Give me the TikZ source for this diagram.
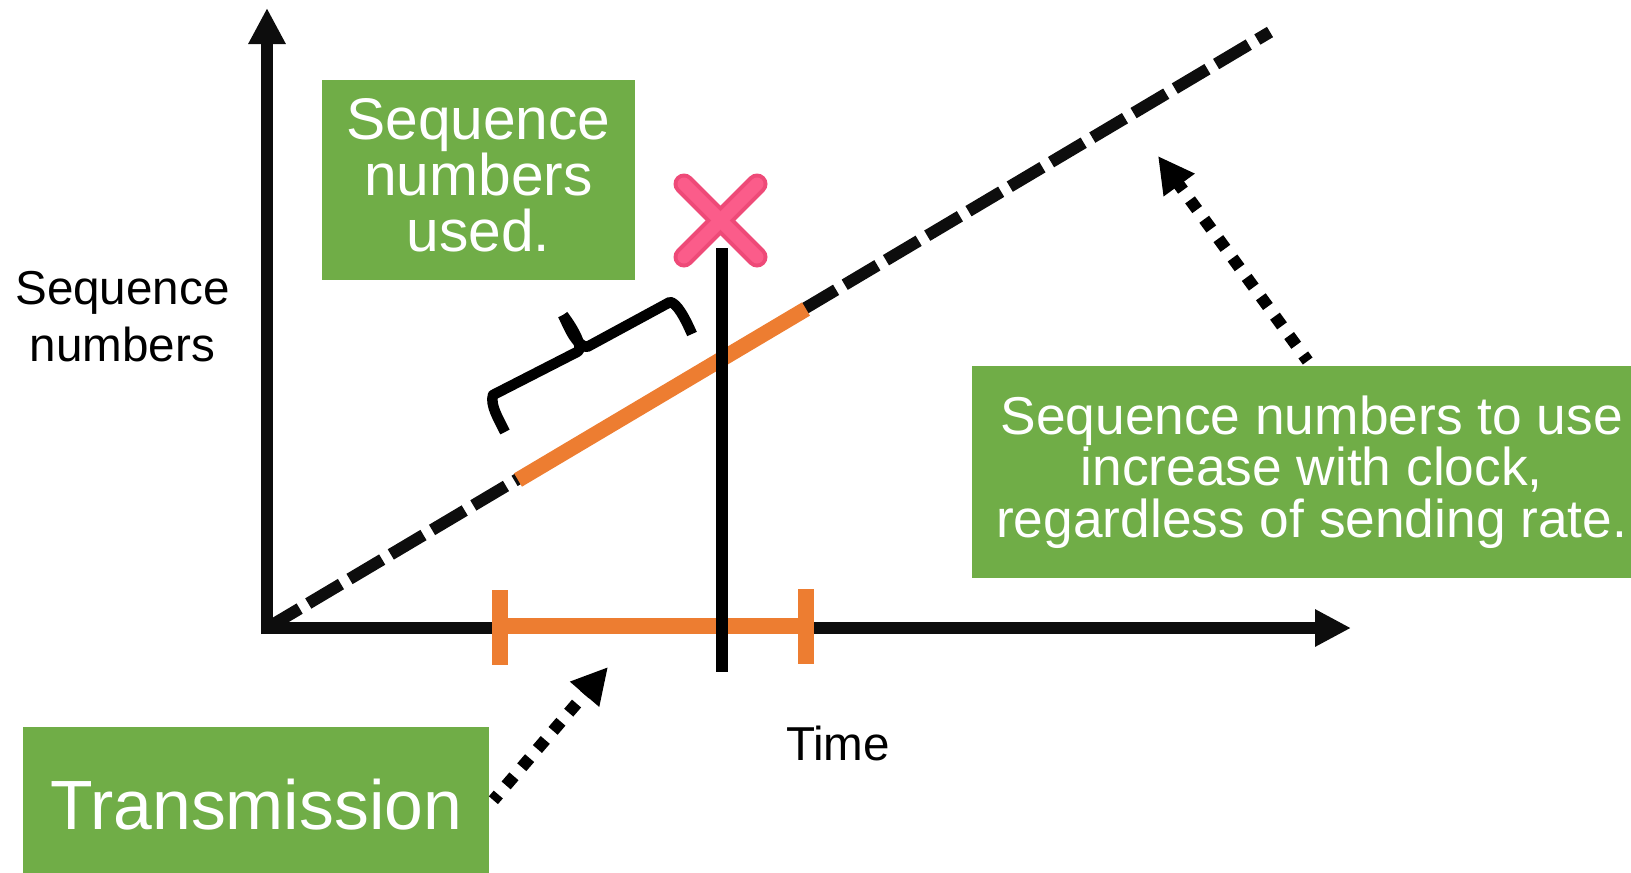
\documentclass[tikz,border=0pt]{standalone}
\usepackage{fontspec}
\setmainfont{Liberation Sans}
\usetikzlibrary{arrows.meta}
\definecolor{boxgreen}{HTML}{70AD47}
\definecolor{barorange}{HTML}{ED7D31}
\definecolor{axisblack}{HTML}{0D0D0D}
\definecolor{xpink}{HTML}{EE4A78}
\definecolor{xpinklight}{HTML}{FB5C8A}
\tikzset{
  axisline/.style={draw=axisblack,line width=12pt,line cap=butt,-{Triangle[length=36pt,width=35pt]}},
  seqdash/.style={draw=axisblack,line width=12pt,dash pattern=on 38pt off 10pt},
  dottedarrow/.style={draw=black,line width=12pt,dash pattern=on 12pt off 12pt,dash phase=4.5pt,-{Triangle[length=36pt,width=36pt]}},
  orangebar/.style={draw=barorange,line cap=butt},
  bracketline/.style={draw=black,line width=10.5pt,line join=round},
  plainlabel/.style={align=center,inner sep=0pt,font=\fontsize{47.6}{57}\selectfont},
}
\begin{document}
\begin{tikzpicture}[x=1pt,y=-1pt]
\useasboundingbox (0,0) rectangle (1631,873);
% coordinates
\coordinate (origin) at (261,628);
\coordinate (ytip) at (267,8);
\coordinate (ybase) at (267,634);
\coordinate (xtip) at (1351,628);
\coordinate (dashstart) at (267,628);
\coordinate (dashend) at (1270,32);
\coordinate (orangestart) at (518,480);
\coordinate (orangeend) at (806,309);
\coordinate (nowtop) at (722,248);
\coordinate (nowbot) at (722,672);
\coordinate (leftbarA) at (500,590);
\coordinate (leftbarB) at (500,665);
\coordinate (rightbarA) at (806,589);
\coordinate (rightbarB) at (806,664);
\coordinate (barL) at (500,626);
\coordinate (barR) at (806,626);
\coordinate (lowtip) at (608,667);
\coordinate (hightip) at (1158,156);
% axes
\draw[axisline] (ybase) -- (ytip);
\draw[axisline] (origin) -- (xtip);
% dashed ramp
\draw[seqdash] (dashstart) -- (dashend);
\draw[orangebar,line width=15.5pt] (orangestart) -- (orangeend);
% transmission interval
\draw[orangebar,line width=16pt] (barL) -- (barR);
\draw[orangebar,line width=16pt] (leftbarA) -- (leftbarB);
\draw[orangebar,line width=16pt] (rightbarA) -- (rightbarB);
% cross
\coordinate (xa) at (684,184);
\coordinate (xb) at (757,257);
\coordinate (xc) at (757,184);
\coordinate (xd) at (684,257);
\draw[xpink,line width=21pt,line cap=round] (xa) -- (xb);
\draw[xpink,line width=21pt,line cap=round] (xc) -- (xd);
\draw[xpinklight,line width=13pt,line cap=round] (xa) -- (xb);
\draw[xpinklight,line width=13pt,line cap=round] (xc) -- (xd);
% current time
\draw[black,line width=12pt] (nowtop) -- (nowbot);
% bracket
\coordinate (br1) at (505,432);
\coordinate (br2) at (493,395);
\coordinate (br3) at (577,352);
\coordinate (br4) at (563,315);
\coordinate (br5) at (587,347);
\coordinate (br6) at (670,302);
\coordinate (br7) at (692,334);
\draw[bracketline] (br1) .. controls (498,418) and (490,405) .. (br2) -- (br3)
  .. controls (583,350) and (578,335) .. (br4);
\draw[bracketline] (br4) .. controls (570,330) and (576,345) .. (br5) -- (br6)
  .. controls (677,303) and (685,318) .. (br7);
% boxes
\node[fill=boxgreen,inner sep=0pt,minimum width=312.5pt,minimum height=200pt,anchor=north west] (usedbox) at (322,80) {};
\node[text=white,align=center,inner sep=0pt,font=\fontsize{58.7}{56}\selectfont] (usedtext) at ([yshift=4.5pt]usedbox.center) {Sequence\\numbers\\used.};
\node[fill=boxgreen,inner sep=0pt,minimum width=659pt,minimum height=211.5pt,anchor=north west] (ratebox) at (972,366) {};
\node[text=white,align=center,inner sep=0pt,font=\fontsize{53.3}{51.5}\selectfont] (ratetext) at ([xshift=10pt]ratebox.center) {Sequence numbers to use\\increase with clock,\\regardless of sending rate.};
\node[fill=boxgreen,inner sep=0pt,minimum width=466pt,minimum height=146pt,anchor=north west] (transbox) at (23,727) {};
\node[text=white,inner sep=0pt,font=\fontsize{69.7}{80}\selectfont] (transtext) at ([yshift=-4pt]transbox.center) {Transmission};
% labels
\node[plainlabel] (seqlabel) at (122.5,317) {Sequence\\numbers};
\node[plainlabel] (timelabel) at (838,743) {Time};
% dotted arrows
\draw[dottedarrow] ([xshift=4pt]transbox.east) -- (lowtip);
\draw[dottedarrow] ([xshift=6pt,yshift=5pt]ratebox.north) -- (hightip);
\end{tikzpicture}
\end{document}
